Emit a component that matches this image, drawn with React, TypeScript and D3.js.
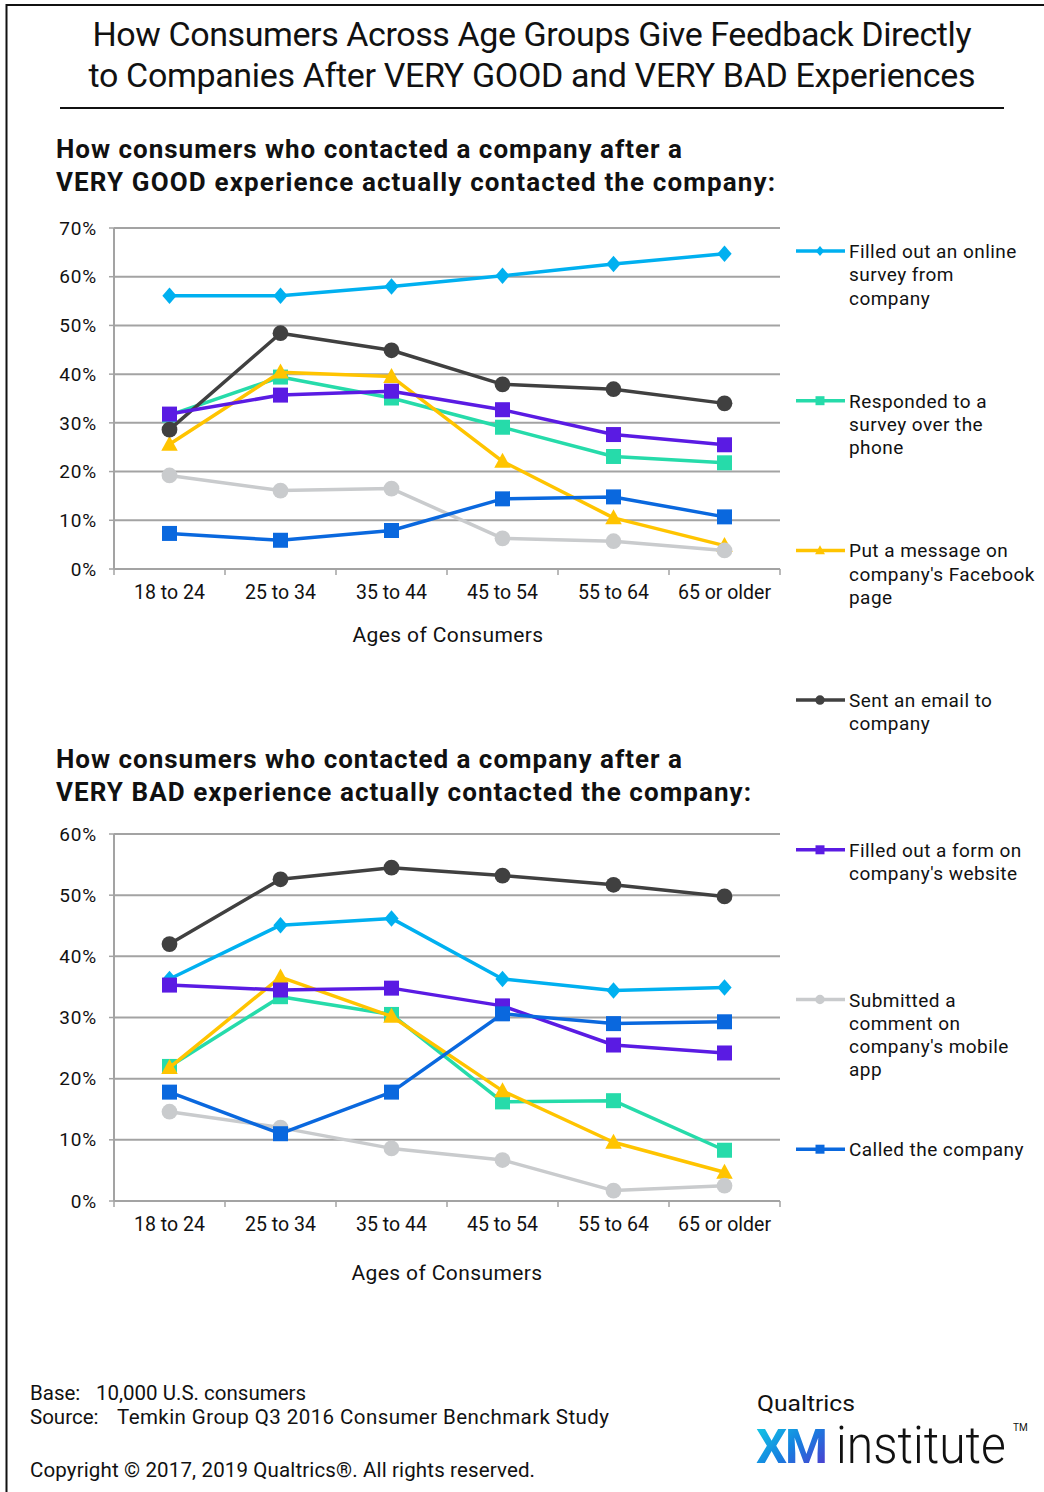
import React from "react";
import * as d3 from "d3";

// Age bands on the x axis
const ages = ["18 to 24", "25 to 34", "35 to 44", "45 to 54", "55 to 64", "65 or older"];

// Series names (legend order)
const seriesNames = [
  "Filled out an online survey from company",
  "Responded to a survey over the phone",
  "Put a message on company's Facebook page",
  "Sent an email to company",
  "Filled out a form on company's website",
  "Submitted a comment on company's mobile app",
  "Called the company",
];

// Legend labels, wrapped
const legendLines = [
  ["Filled out an online", "survey from", "company"],
  ["Responded to a", "survey over the", "phone"],
  ["Put a message on", "company's Facebook", "page"],
  ["Sent an email to", "company"],
  ["Filled out a form on", "company's website"],
  ["Submitted a", "comment on", "company's mobile", "app"],
  ["Called the company"],
];

const seriesColors = ["#00B0F0", "#26DBAA", "#FFC400", "#404040", "#5A1BE3", "#C9CBCD", "#0A68DE"];
const seriesShapes = ["diamond", "square", "triangle", "circle", "square", "circle", "square"];

// VERY GOOD experience (%)
const onlineSurveyGood = [56.1, 56.1, 58.0, 60.2, 62.6, 64.7];
const phoneSurveyGood = [31.6, 39.4, 35.1, 29.1, 23.1, 21.8];
const facebookGood = [25.6, 40.4, 39.5, 22.1, 10.5, 4.8];
const emailGood = [28.6, 48.4, 44.9, 37.9, 36.9, 34.0];
const websiteFormGood = [31.8, 35.7, 36.5, 32.7, 27.6, 25.5];
const mobileAppGood = [19.2, 16.1, 16.5, 6.3, 5.7, 3.8];
const calledGood = [7.3, 5.9, 7.9, 14.4, 14.8, 10.7];

// VERY BAD experience (%)
const onlineSurveyBad = [36.3, 45.1, 46.2, 36.3, 34.4, 34.9];
const phoneSurveyBad = [22.0, 33.4, 30.5, 16.2, 16.4, 8.3];
const facebookBad = [21.8, 36.6, 30.2, 18.0, 9.6, 4.7];
const emailBad = [42.0, 52.6, 54.5, 53.2, 51.7, 49.8];
const websiteFormBad = [35.3, 34.5, 34.8, 31.9, 25.5, 24.2];
const mobileAppBad = [14.6, 12.0, 8.6, 6.7, 1.7, 2.5];
const calledBad = [17.8, 11.0, 17.8, 30.6, 29.0, 29.3];

const goodTicks = [0, 10, 20, 30, 40, 50, 60, 70];
const badTicks = [0, 10, 20, 30, 40, 50, 60];

const goodSeries = [onlineSurveyGood, phoneSurveyGood, facebookGood, emailGood, websiteFormGood, mobileAppGood, calledGood];
const badSeries = [onlineSurveyBad, phoneSurveyBad, facebookBad, emailBad, websiteFormBad, mobileAppBad, calledBad];

const FONT = "Roboto, 'Noto Sans', sans-serif";
const GRID = "#A3A3A3";
const INK = "#111";

function markerPath(shape: string, s: number): string {
  switch (shape) {
    case "diamond":
      return `M0,${-s * 1.1}L${s * 0.95},0L0,${s * 1.1}L${-s * 0.95},0Z`;
    case "square":
      return `M${-s},${-s}H${s}V${s}H${-s}Z`;
    case "triangle":
      return `M0,${-s * 1.15}L${s * 1.1},${s * 0.85}L${-s * 1.1},${s * 0.85}Z`;
    default:
      return d3.arc()({ innerRadius: 0, outerRadius: s * 1.05, startAngle: 0, endAngle: Math.PI * 2 }) as string;
  }
}

type ChartProps = {
  data: number[][];
  ticks: number[];
  top: number;
  bottom: number;
  left: number;
  right: number;
};

function LineChart({ data, ticks, top, bottom, left, right }: ChartProps) {
  const x = d3.scaleBand<string>().domain(ages).range([left, right]);
  const y = d3.scaleLinear().domain([0, d3.max(ticks) as number]).range([bottom, top]);
  const cx = (i: number) => (x(ages[i]) as number) + x.bandwidth() / 2;
  const line = d3
    .line<number>()
    .x((_, i) => cx(i))
    .y((v) => y(v));
  const edges = ages.map((a) => x(a) as number).concat([right]);
  return (
    <g>
      {ticks.map((t) => (
        <g key={t}>
          <line x1={left} x2={right} y1={y(t)} y2={y(t)} stroke={GRID} strokeWidth={2} />
          <line x1={left - 5} x2={left} y1={y(t)} y2={y(t)} stroke={GRID} strokeWidth={1.5} />
          <text x={97} y={y(t)} dy="0.35em" textAnchor="end" fontSize={19} letterSpacing={0.8} fill={INK}>
            {t}%
          </text>
        </g>
      ))}
      <line x1={left} x2={left} y1={top} y2={bottom} stroke={GRID} strokeWidth={2} />
      {edges.map((e, i) => (
        <line key={i} x1={e} x2={e} y1={bottom} y2={bottom + 6} stroke={GRID} strokeWidth={1.5} />
      ))}
      {ages.map((a, i) => (
        <text key={a} x={cx(i)} y={bottom + 30} textAnchor="middle" fontSize={19.5} fill={INK}>
          {a}
        </text>
      ))}
      {data.map((vals, si) => (
        <g key={si}>
          <path d={line(vals) as string} fill="none" stroke={seriesColors[si]} strokeWidth={3.5} strokeLinejoin="round" />
          {vals.map((v, i) => (
            <path
              key={i}
              transform={`translate(${cx(i)},${y(v)})`}
              d={markerPath(seriesShapes[si], 7.5)}
              fill={seriesColors[si]}
            />
          ))}
        </g>
      ))}
    </g>
  );
}

function Legend() {
  const y0 = 251;
  const step = 149.7;
  return (
    <g>
      {seriesNames.map((name, i) => {
        const cy = y0 + i * step;
        return (
          <g key={name}>
            <line x1={796} x2={845} y1={cy} y2={cy} stroke={seriesColors[i]} strokeWidth={3.5} />
            <path transform={`translate(820,${cy})`} d={markerPath(seriesShapes[i], 4.5)} fill={seriesColors[i]} />
            {legendLines[i].map((t, j) => (
              <text key={j} x={849} y={cy + 7 + j * 23.3} fontSize={19} letterSpacing={0.45} fill={INK}>
                {t}
              </text>
            ))}
          </g>
        );
      })}
    </g>
  );
}

export default function App() {
  return (
    <svg
      width={1044}
      height={1492}
      style={{ position: "absolute", left: 0, top: 0, background: "#fff" }}
      fontFamily={FONT}
    >
      <defs>
        <linearGradient id="xmGrad" x1="0" y1="0" x2="1" y2="1">
          <stop offset="0" stopColor="#14D6E6" />
          <stop offset="0.5" stopColor="#1482E0" />
          <stop offset="1" stopColor="#5A2ECC" />
        </linearGradient>
      </defs>
      <rect x={0} y={0} width={1044} height={1492} fill="#fff" />
      {/* frame */}
      <path d="M6.5,1492V5H1044" fill="none" stroke={INK} strokeWidth={2} />

      {/* main title */}
      <text x={532} y={46} textAnchor="middle" fontSize={34} fill={INK} textLength={879} lengthAdjust="spacing">
        How Consumers Across Age Groups Give Feedback Directly
      </text>
      <text x={532} y={87} textAnchor="middle" fontSize={34} fill={INK} textLength={887} lengthAdjust="spacing">
        to Companies After VERY GOOD and VERY BAD Experiences
      </text>
      <line x1={60} x2={1004} y1={108} y2={108} stroke={INK} strokeWidth={2} />

      {/* upper chart */}
      <text x={56} y={158} fontSize={26} fontWeight={700} fill={INK} textLength={626} lengthAdjust="spacing">
        How consumers who contacted a company after a
      </text>
      <text x={56} y={191} fontSize={26} fontWeight={700} fill={INK} textLength={719} lengthAdjust="spacing">
        VERY GOOD experience actually contacted the company:
      </text>
      <LineChart data={goodSeries} ticks={goodTicks} top={228} bottom={569} left={114} right={780} />
      <text x={448} y={642} textAnchor="middle" fontSize={21} letterSpacing={0.4} fill={INK}>
        Ages of Consumers
      </text>

      {/* lower chart */}
      <text x={56} y={768} fontSize={26} fontWeight={700} fill={INK} textLength={626} lengthAdjust="spacing">
        How consumers who contacted a company after a
      </text>
      <text x={56} y={801} fontSize={26} fontWeight={700} fill={INK} textLength={695} lengthAdjust="spacing">
        VERY BAD experience actually contacted the company:
      </text>
      <LineChart data={badSeries} ticks={badTicks} top={834} bottom={1201} left={114} right={780} />
      <text x={447} y={1280} textAnchor="middle" fontSize={21} letterSpacing={0.4} fill={INK}>
        Ages of Consumers
      </text>

      <Legend />

      {/* footnotes */}
      <text x={30} y={1400} fontSize={20.5} fill={INK}>
        <tspan>Base:</tspan>
        <tspan x={96}>10,000 U.S. consumers</tspan>
      </text>
      <text x={30} y={1424} fontSize={20.5} fill={INK}>
        <tspan>Source:</tspan>
        <tspan x={117} textLength={492} lengthAdjust="spacing">
          Temkin Group Q3 2016 Consumer Benchmark Study
        </tspan>
      </text>
      <text x={30} y={1477} fontSize={20.5} fill={INK} textLength={505} lengthAdjust="spacing">
        Copyright © 2017, 2019 Qualtrics®. All rights reserved.
      </text>

      {/* logo */}
      <text x={757} y={1411} fontSize={22.5} fill={INK} textLength={98} lengthAdjust="spacingAndGlyphs">
        Qualtrics
      </text>
      <text x={756} y={1463} fontSize={49} fontWeight={700} fill="url(#xmGrad)" letterSpacing={-2}>
        XM
      </text>
      <g transform="translate(836,1463) scale(1,1.08)">
        <text x={0} y={0} fontSize={48} fontWeight={300} fill={INK}>
          institute
        </text>
      </g>
      <text x={1013} y={1431} fontSize={10} fill={INK}>
        TM
      </text>
    </svg>
  );
}
